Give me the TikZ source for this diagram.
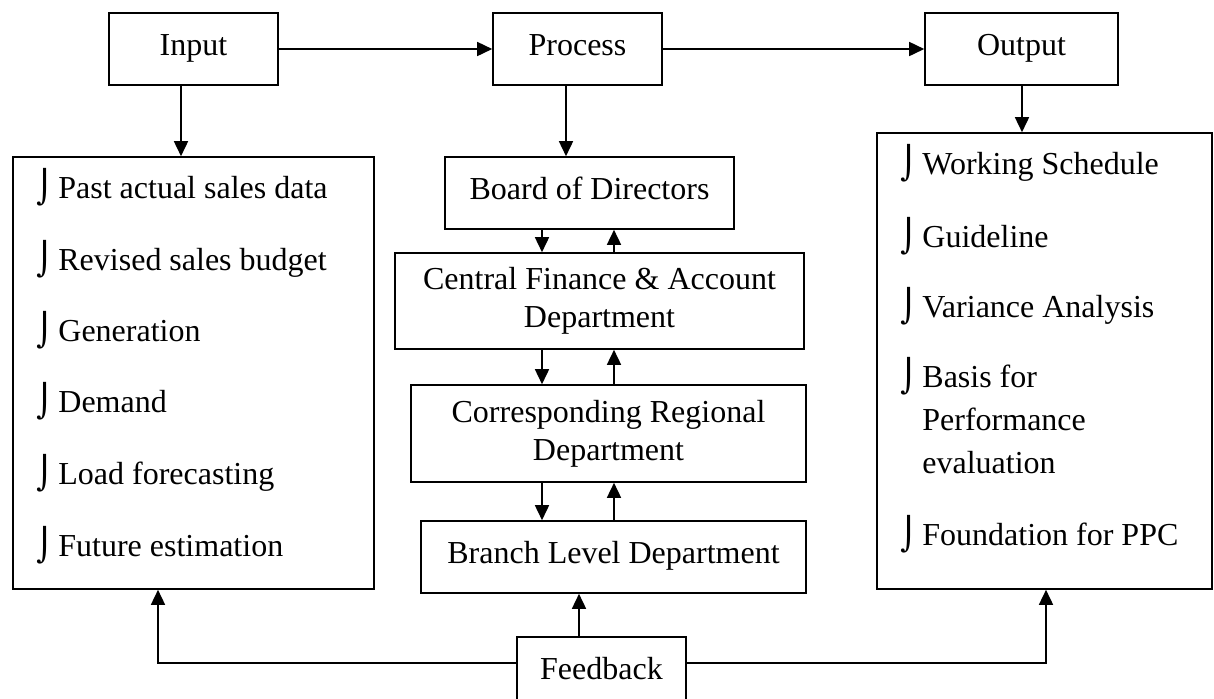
\documentclass[tikz,border=0pt]{standalone}
\usepackage{fontspec}
\setmainfont{Liberation Serif}
\newfontfamily\symfont{DejaVu Serif}
\usetikzlibrary{arrows.meta}
\newcommand{\bul}{\makebox[11pt][l]{\symfont ⌡}}
\tikzset{
	box/.style={draw, line width=0.8pt, inner sep=0pt, align=center},
	onebox/.style={box, text height=11pt, text depth=5pt},
	item/.style={anchor=base west, inner sep=0pt},
	arr/.style={line width=0.8pt, -{Triangle[length=7.5pt,width=7pt]}},
}

\begin{document}
\begin{tikzpicture}[x=0.5pt,y=0.5pt,yscale=-1,xscale=1,font=\fontsize{16}{19}\selectfont]
	\useasboundingbox (0,0) rectangle (1214,698);
	\node[onebox, minimum width=84.5pt, minimum height=36pt] (inp) at (193.5,49) {Input};
	\node[onebox, minimum width=84.5pt, minimum height=36pt] (proc) at (577.5,49) {Process};
	\node[onebox, minimum width=96.5pt, minimum height=36pt] (outp) at (1021.5,49) {Output};
	\node[box, minimum width=180.5pt, minimum height=216pt] (inbox) at (193.5,373) {};
	\node[box, minimum width=167.5pt, minimum height=228pt] (outbox) at (1044.5,361) {};
	\node[onebox, minimum width=144.5pt, minimum height=36pt] (board) at (589.5,193) {Board of Directors};
	\node[box, minimum width=204.5pt, minimum height=48pt] (central) at (599.5,301) {Central Finance \& Account\\Department};
	\node[box, minimum width=197.5pt, minimum height=48.5pt] (corr) at (608.5,433.5) {Corresponding Regional\\Department};
	\node[onebox, minimum width=192.5pt, minimum height=36pt] (branch) at (613.5,557) {Branch Level Department};
	\node[onebox, minimum width=84.5pt, minimum height=36pt] (feed) at (601.5,673) {Feedback};
	\node[item] (in1) at (36,198) {\bul Past actual sales data};
	\node[item] (in2) at (36,270) {\bul Revised sales budget};
	\node[item] (in3) at (36,341) {\bul Generation};
	\node[item] (in4) at (36,412) {\bul Demand};
	\node[item] (in5) at (36,484) {\bul Load forecasting};
	\node[item] (in6) at (36,556) {\bul Future estimation};
	\node[item] (out1) at (900,174) {\bul Working Schedule};
	\node[item] (out2) at (900,247) {\bul Guideline};
	\node[item] (out3) at (900,317) {\bul Variance Analysis};
	\node[item, align=left, font=\fontsize{16}{21.5}\selectfont] (out4) at (900,473) {\bul Basis for\\\hspace*{11pt}Performance\\\hspace*{11pt}evaluation};
	\node[item] (out5) at (900,545) {\bul Foundation for PPC};
	\coordinate (xin) at (181,0);
	\coordinate (xpr) at (566,0);
	\coordinate (xout) at (1022,0);
	\coordinate (xdn) at (542,0);
	\coordinate (xup) at (614,0);
	\coordinate (xfb) at (579,0);
	\coordinate (fl) at (158,663);
	\coordinate (fr) at (1046,663);
	\draw[arr] (inp) -- (proc);
	\draw[arr] (proc) -- (outp);
	\draw[arr] (inp.south -| xin) -- (inbox.north -| xin);
	\draw[arr] (proc.south -| xpr) -- (board.north -| xpr);
	\draw[arr] (outp.south -| xout) -- (outbox.north -| xout);
	\draw[arr] (board.south -| xdn) -- (central.north -| xdn);
	\draw[arr] (central.north -| xup) -- (board.south -| xup);
	\draw[arr] (central.south -| xdn) -- (corr.north -| xdn);
	\draw[arr] (corr.north -| xup) -- (central.south -| xup);
	\draw[arr] (corr.south -| xdn) -- (branch.north -| xdn);
	\draw[arr] (branch.north -| xup) -- (corr.south -| xup);
	\draw[arr] (feed.north -| xfb) -- (branch.south -| xfb);
	\draw[arr] (feed.west |- fl) -- (fl) -- (inbox.south -| fl);
	\draw[arr] (feed.east |- fr) -- (fr) -- (outbox.south -| fr);
\end{tikzpicture}
\end{document}
